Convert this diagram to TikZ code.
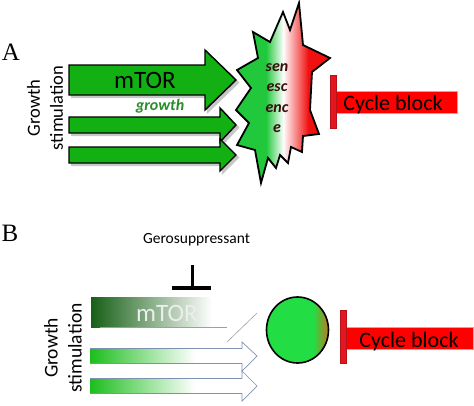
\documentclass[tikz,border=0pt]{standalone}
\usepackage{fontspec}
\setmainfont{Liberation Serif}
\newfontfamily\carl{Carlito}
\definecolor{agreen}{RGB}{18,176,18}
\definecolor{growthg}{RGB}{40,140,40}
\definecolor{senext}{RGB}{55,15,15}
\definecolor{sgreen}{RGB}{34,200,60}
\definecolor{sred}{RGB}{240,16,16}
\definecolor{cgreen}{RGB}{34,221,68}
\definecolor{corange}{RGB}{205,110,30}
\definecolor{bgreen}{RGB}{28,190,28}
\definecolor{dkgreen}{RGB}{22,95,22}
\definecolor{steel}{RGB}{125,145,178}
\definecolor{barred}{RGB}{228,22,32}
\newcommand{\arrowshape}[7]{%
  \path[#1] (#2,#5-#6) -- (#3,#5-#6) -- (#3,#5-#7) -- (#4,#5) -- (#3,#5+#7) -- (#3,#5+#6) -- (#2,#5+#6) -- cycle;}
\begin{document}
\begin{tikzpicture}[x=1pt,y=-1pt,
  garrow/.style={fill=agreen,draw=black,line width=1.4pt,line join=miter},
  shadowp/.style={fill=black!22,draw=black!22,line width=1.4pt,line join=miter},
  panlbl/.style={inner sep=0pt,font=\fontsize{25}{28}\selectfont},
  gstim/.style={inner sep=0pt,rotate=90,align=center,font=\carl\fontsize{18.5}{23}\selectfont},
  ctext/.style={inner sep=0pt,anchor=base,font=\carl\fontsize{22}{24}\selectfont},
  mtor/.style={inner sep=0pt,font=\carl\fontsize{25}{27}\selectfont},
  redrect/.style={fill=red,draw=gray!60,line width=0.5pt},
  redbar/.style={fill=barred,draw=barred!80!black,line width=0.5pt},
  barrow/.style={draw=steel,line width=0.7pt,line join=miter}]
\path[use as bounding box] (0,0) rectangle (474,405);

% ---------------- Panel A ----------------
\node[panlbl] (labA) at (11,52) {A};
\node[gstim] (gsA) at (45,108) {Growth\\stimulation};

\arrowshape{shadowp,shift={(2.5,2.5)}}{69}{205}{236}{80}{15}{30}
\arrowshape{garrow}{69}{205}{236}{80}{15}{30}
\arrowshape{shadowp,shift={(2.5,2.5)}}{69}{220}{236}{125}{8}{17}
\arrowshape{garrow}{69}{220}{236}{125}{8}{17}
\arrowshape{shadowp,shift={(2.5,2.5)}}{69}{220}{236}{155}{8}{16}
\arrowshape{garrow}{69}{220}{236}{155}{8}{16}

\node[mtor] (mtorA) at (145,80) {mTOR};
\node[inner sep=0pt,text=growthg,font=\carl\bfseries\itshape\fontsize{16}{18}\selectfont] (growth) at (160,106) {growth};

% senescence star
\path[draw=black,line width=1.8pt,line join=miter,path picture={
  \fill[sgreen] (225,0) rectangle (267,190);
  \shade[left color=sgreen,right color=white] (266,0) rectangle (283.5,190);
  \shade[left color=white,right color=sred] (283,0) rectangle (308.5,190);
  \fill[sred] (308,0) rectangle (340,190);}]
  (299,3) -- (303,45) -- (330,58) -- (312,72) -- (310,110) -- (319,134) -- (303,136)
  -- (302,152) -- (291,147) -- (288,163) -- (280,155) -- (276,168) -- (268,158)
  -- (261,183) -- (255,150) -- (237,145) -- (249,123) -- (236,110) -- (251,88)
  -- (237,70) -- (258,58) -- (253,32) -- (270,42) -- (283,12) -- (290,30) -- cycle;
\node[inner sep=0pt,align=center,text=senext,font=\carl\bfseries\itshape\fontsize{16}{20.3}\selectfont] (sen) at (277,98) {sen\\esc\\enc\\e};

% cycle block A
\node[redrect,minimum width=121pt,minimum height=22pt,inner sep=0pt] (cbA) at (396.5,102) {};
\node[ctext] (cbAtxt) at (393,110) {Cycle block};
\node[redbar,minimum width=6pt,minimum height=53pt,inner sep=0pt] (barA) at (333,101.5) {};

% ---------------- Panel B ----------------
\node[panlbl] (labB) at (10,233) {B};
\node[gstim,font=\carl\fontsize{19.5}{24}\selectfont] (gsB) at (63,348) {Growth\\stimulation};

\node[inner sep=0pt,font=\carl\fontsize{15.5}{18}\selectfont] (gero) at (196.5,240) {Gerosuppressant};
\coordinate (tTop) at (192,265);
\coordinate (tBot) at (192,288);
\draw[line width=3pt] (tTop) -- (tBot);
\draw[line width=4pt] ([xshift=-20pt]tBot) -- ([xshift=19pt]tBot);

% faded mTOR bar
\shade[left color=dkgreen,right color=white] (91,297) rectangle (212,327);
\coordinate (mb1) at (100,327);
\coordinate (mb2) at (227,327);
\draw[gray!75,line width=0.6pt] (mb1) -- (mb2);
\coordinate (dg1) at (227,342);
\coordinate (dg2) at (257,313);
\draw[gray!75,line width=0.6pt] (dg1) -- (dg2);
\node[mtor,text=white!93!black] (mtorB) at (167,313) {mTOR};

% faded arrows
\shade[left color=bgreen,right color=white] (90,348.5) rectangle (195,363.5);
\draw[barrow] (90,348.5) -- (242,348.5) -- (242,342) -- (257,356) -- (242,371) -- (242,363.5) -- (90,363.5);
\shade[left color=bgreen,right color=white] (90,378.5) rectangle (195,393.5);
\draw[barrow] (90,378.5) -- (242,378.5) -- (242,371) -- (257,386) -- (242,401) -- (242,393.5) -- (90,393.5);

% cell
\path[draw=black,line width=1.6pt,path picture={
  \fill[cgreen] (260,290) rectangle (314,370);
  \shade[left color=cgreen,right color=corange] (313.5,290) rectangle (330,370);}]
  (297.5,330) ellipse [x radius=31, y radius=33];
\node[inner sep=0pt,minimum size=0pt] (cell) at (297.5,330) {};

% cycle block B
\node[redrect,minimum width=127pt,minimum height=22pt,inner sep=0pt] (cbB) at (409.5,338) {};
\node[ctext] (cbBtxt) at (409,347) {Cycle block};
\node[redbar,minimum width=6pt,minimum height=53pt,inner sep=0pt] (barB) at (343,336.5) {};
\end{tikzpicture}
\end{document}
